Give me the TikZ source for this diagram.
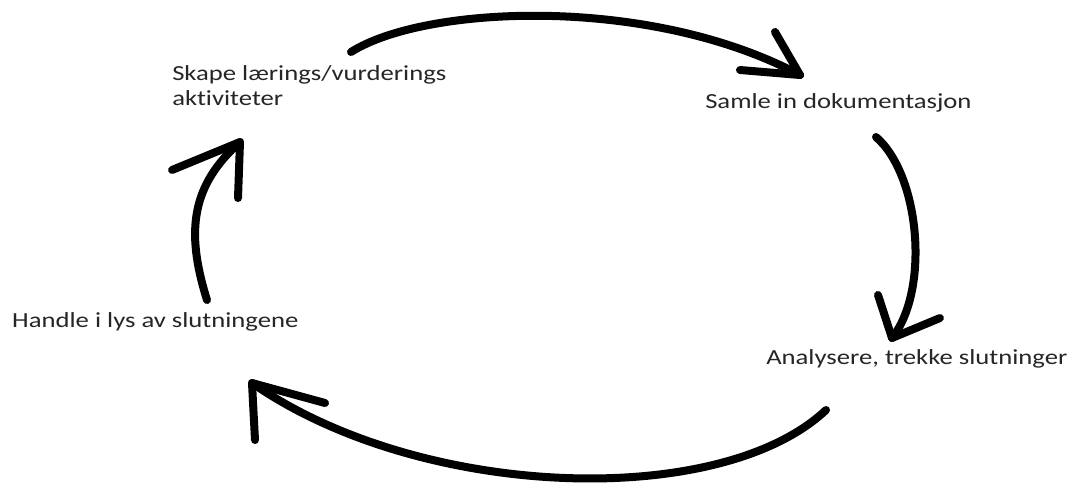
\documentclass[tikz,border=0pt]{standalone}
\usepackage{fontspec}
\setmainfont[Ligatures=NoCommon,RawFeature={-liga;-clig}]{Carlito}
\begin{document}
\begin{tikzpicture}[x=1pt,y=-1pt,
  lbl/.style={anchor=base west,inner sep=0pt,text=black!85,align=left,
    font=\fontsize{21.5}{25}\selectfont,xscale=1.24,transform shape},
  stroke/.style={line width=8pt,line cap=round,line join=round,black}]
\useasboundingbox[fill=white] (0,0) rectangle (1076,488);
% labels (base anchor of a two-line node is its last line)
\node[lbl] (skape) at (172,105) {Skape lærings/vurderings\\aktiviteter};
\node[lbl] (samle) at (705,108) {Samle in dokumentasjon};
\node[lbl] (analyse) at (766,364) {Analysere, trekke slutninger};
\node[lbl] (handle) at (12,327) {Handle i lys av slutningene};
% arrow end points
\coordinate (t1s) at (351,52);  \coordinate (t1e) at (800,75);
\coordinate (t1a) at (775,32);  \coordinate (t1b) at (740,70);
\coordinate (t2s) at (876,137); \coordinate (t2e) at (892,338);
\coordinate (t2a) at (878,295); \coordinate (t2b) at (940,318);
\coordinate (t3s) at (826,410); \coordinate (t3e) at (252,383);
\coordinate (t3a) at (325,403); \coordinate (t3b) at (255,440);
\coordinate (t4s) at (207,300); \coordinate (t4e) at (240,142);
\coordinate (t4a) at (172,170); \coordinate (t4b) at (238,198);
% top arrow
\draw[stroke] (t1s) .. controls (425,5) and (650,-5) .. (t1e);
\draw[stroke] (t1a) -- (t1e) -- (t1b);
% right arrow
\draw[stroke] (t2s) .. controls (920,175) and (930,290) .. (t2e);
\draw[stroke] (t2a) -- (t2e) -- (t2b);
% bottom arrow
\draw[stroke] (t3s) .. controls (720,510) and (420,500) .. (t3e);
\draw[stroke] (t3a) -- (t3e) -- (t3b);
% left arrow
\draw[stroke] (t4s) .. controls (185,230) and (192,185) .. (t4e);
\draw[stroke] (t4a) -- (t4e) -- (t4b);
\end{tikzpicture}
\end{document}
